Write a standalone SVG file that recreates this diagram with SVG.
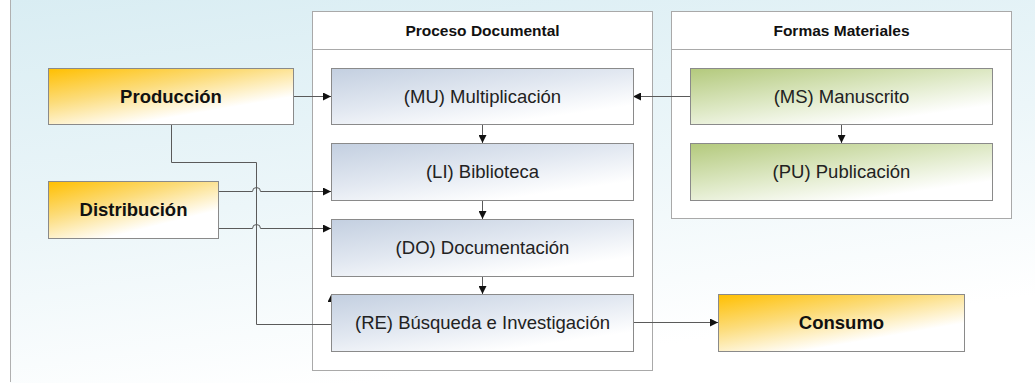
<svg xmlns="http://www.w3.org/2000/svg" width="1035" height="383" viewBox="0 0 1035 383">
  <defs>
    <linearGradient id="bg" x1="0" y1="0" x2="0.35" y2="1">
      <stop offset="0" stop-color="#d9edf3"/>
      <stop offset="0.55" stop-color="#ecf6f9"/>
      <stop offset="1" stop-color="#ffffff"/>
    </linearGradient>
    <linearGradient id="gOrange" x1="0" y1="0" x2="0.75" y2="1">
      <stop offset="0" stop-color="#ffbf00"/>
      <stop offset="0.4" stop-color="#fcdc7a"/>
      <stop offset="0.8" stop-color="#ffffff"/>
    </linearGradient>
    <linearGradient id="gBlue" x1="0" y1="0" x2="0.75" y2="1">
      <stop offset="0" stop-color="#c3cfe0"/>
      <stop offset="0.5" stop-color="#e2e8f1"/>
      <stop offset="0.9" stop-color="#ffffff"/>
    </linearGradient>
    <linearGradient id="gGreen" x1="0" y1="0" x2="0.75" y2="1">
      <stop offset="0" stop-color="#b3c97c"/>
      <stop offset="0.5" stop-color="#dde8c4"/>
      <stop offset="0.9" stop-color="#ffffff"/>
    </linearGradient>
    <marker id="arr" viewBox="0 0 10 10" refX="10" refY="5" markerWidth="8" markerHeight="8" markerUnits="userSpaceOnUse" orient="auto">
      <path d="M0,0 L10,5 L0,10 z" fill="#111"/>
    </marker>
  </defs>
  <style>
    .box { stroke: #8a8a8a; stroke-width: 1; }
    .cont { fill: #ffffff; stroke: #a9a9a9; stroke-width: 1; }
    .lbl { font-family: "Liberation Sans", Arial, sans-serif; font-size: 18.5px; fill: #222; text-anchor: middle; dominant-baseline: central; }
    .blbl { font-family: "Liberation Sans", Arial, sans-serif; font-size: 18.5px; font-weight: bold; fill: #111; text-anchor: middle; dominant-baseline: central; }
    .hdr { font-family: "Liberation Sans", Arial, sans-serif; font-size: 15.5px; font-weight: bold; fill: #111; text-anchor: middle; dominant-baseline: central; }
    .conn { fill: none; stroke: #5a5a5a; stroke-width: 1; }
    .arrow { marker-end: url(#arr); }
  </style>

  <!-- page background -->
  <rect x="0" y="0" width="1035" height="383" fill="#ffffff"/>
  <rect x="10" y="0" width="1025" height="383" fill="url(#bg)"/>
  <line x1="10.5" y1="0" x2="10.5" y2="382" stroke="#b0b0b0" stroke-width="1"/>

  <!-- containers -->
  <g id="proceso-documental">
    <rect class="cont" x="312.5" y="11.5" width="340" height="359"/>
    <line x1="312.5" y1="49.5" x2="652.5" y2="49.5" stroke="#a9a9a9"/>
    <text class="hdr" x="482.5" y="30">Proceso Documental</text>
  </g>
  <g id="formas-materiales">
    <rect class="cont" x="671.5" y="11.5" width="340" height="207"/>
    <line x1="671.5" y1="49.5" x2="1011.5" y2="49.5" stroke="#a9a9a9"/>
    <text class="hdr" x="841.5" y="30">Formas Materiales</text>
  </g>

  <!-- connectors -->
  <g id="connectors">
    <path class="conn arrow" d="M293,96.5 H331"/>
    <path class="conn arrow" d="M690,96.5 H633"/>
    <path class="conn arrow" d="M482.5,124 V143"/>
    <path class="conn arrow" d="M482.5,200 V219"/>
    <path class="conn arrow" d="M482.5,276 V294"/>
    <path class="conn arrow" d="M841.5,124 V143"/>
    <path class="conn arrow" d="M171.5,124 V162.5 H256.5 V324.5 H331.5 V294"/>
    <path class="conn arrow" d="M218,191.5 H252.5 A4,4 0 0 1 260.5,191.5 H331"/>
    <path class="conn arrow" d="M218,228.5 H252.5 A4,4 0 0 1 260.5,228.5 H331"/>
    <path class="conn arrow" d="M633,322.5 H718"/>
  </g>

  <!-- nodes -->
  <g id="produccion">
    <rect class="box" x="48.5" y="68.5" width="245" height="56" fill="url(#gOrange)"/>
    <text class="blbl" x="171" y="96.5">Producción</text>
  </g>
  <g id="distribucion">
    <rect class="box" x="48.5" y="181.5" width="170" height="57" fill="url(#gOrange)"/>
    <text class="blbl" x="133.5" y="209.5">Distribución</text>
  </g>
  <g id="multiplicacion">
    <rect class="box" x="331.5" y="68.5" width="302" height="56" fill="url(#gBlue)"/>
    <text class="lbl" x="482.5" y="96.5">(MU) Multiplicación</text>
  </g>
  <g id="biblioteca">
    <rect class="box" x="331.5" y="143.5" width="302" height="57" fill="url(#gBlue)"/>
    <text class="lbl" x="482.5" y="171.5">(LI) Biblioteca</text>
  </g>
  <g id="documentacion">
    <rect class="box" x="331.5" y="219.5" width="302" height="57" fill="url(#gBlue)"/>
    <text class="lbl" x="482.5" y="247.5">(DO) Documentación</text>
  </g>
  <g id="busqueda">
    <rect class="box" x="331.5" y="294.5" width="302" height="57" fill="url(#gBlue)"/>
    <text class="lbl" x="482.5" y="322.5">(RE) Búsqueda e Investigación</text>
  </g>
  <g id="manuscrito">
    <rect class="box" x="690.5" y="68.5" width="302" height="56" fill="url(#gGreen)"/>
    <text class="lbl" x="841.5" y="96.5">(MS) Manuscrito</text>
  </g>
  <g id="publicacion">
    <rect class="box" x="690.5" y="143.5" width="302" height="57" fill="url(#gGreen)"/>
    <text class="lbl" x="841.5" y="171.5">(PU) Publicación</text>
  </g>
  <g id="consumo">
    <rect class="box" x="718.5" y="294.5" width="246" height="57" fill="url(#gOrange)"/>
    <text class="blbl" x="841.5" y="322.5">Consumo</text>
  </g>
</svg>
